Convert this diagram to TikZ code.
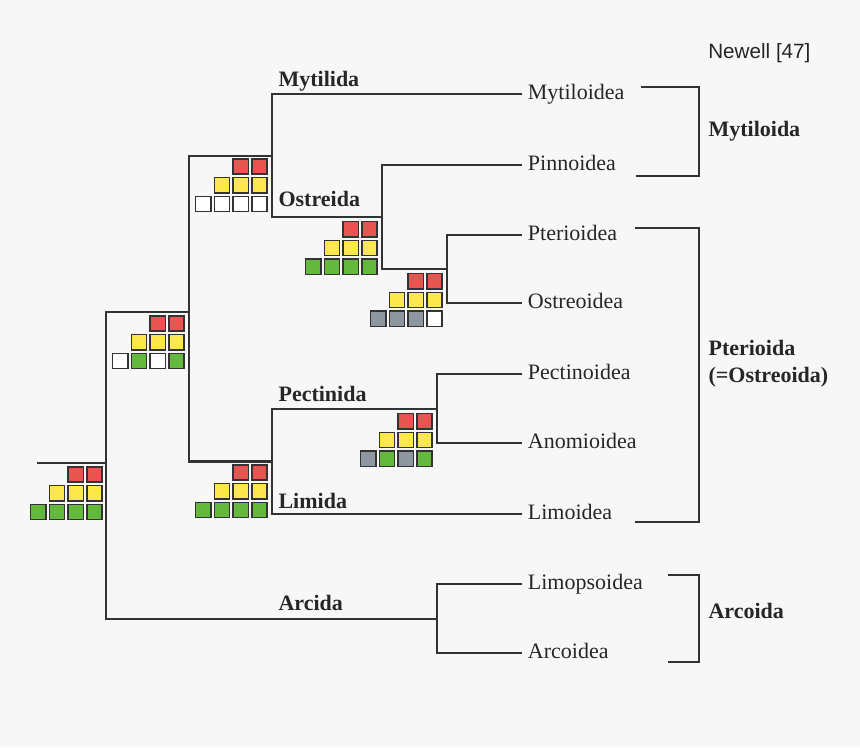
\documentclass[tikz,border=0pt]{standalone}
\usepackage{fontspec}
\setmainfont{Liberation Serif}
\newfontfamily\arialfont{Liberation Sans}
\definecolor{bg}{HTML}{F7F7F7}
\definecolor{ln}{HTML}{333333}
\definecolor{tx}{HTML}{262626}
\definecolor{cred}{HTML}{E8544F}
\definecolor{cyel}{HTML}{FCE74C}
\definecolor{cgrn}{HTML}{64B83D}
\definecolor{cgry}{HTML}{8E979F}
\definecolor{cwht}{HTML}{FFFFFF}
\newcommand\sqgroup[6]{%
  \foreach \k in {0,1}
    \draw[sqbox, fill=cred] ({#1-\k*18.8-16.0},{#2+0.8}) rectangle ++(15.2,15.2);
  \foreach \k in {0,1,2}
    \draw[sqbox, fill=cyel] ({#1-\k*18.8-16.0},{#2+18.8+0.8}) rectangle ++(15.2,15.2);
  \foreach \c [count=\i from 0] in {#3,#4,#5,#6}
    \draw[sqbox, fill=\c] ({#1-3*18.8-16.0+\i*18.8},{#2+37.6+0.8}) rectangle ++(15.2,15.2);
}
\begin{document}
\begin{tikzpicture}[x=0.75pt,y=-0.75pt,
  branch/.style={draw=ln, line width=1.6pt, line cap=rect},
  sqbox/.style={draw=ln, line width=1.2pt},
  leaf/.style={anchor=west, inner xsep=5pt, inner ysep=0pt, text height=0.8em, text depth=0.05em, font=\fontsize{16.5}{19}\selectfont, text=tx},
  clade/.style={anchor=base west, inner sep=0pt, font=\fontsize{16.5}{19}\selectfont\bfseries, text=tx},
  bracket/.style={draw=ln, line width=1.6pt}
]
\fill[bg] (0,0) rectangle (860,747);
\useasboundingbox (0,0) rectangle (860,747);

% leaves
\node[leaf] (mytiloidea)  at (521,94.3)  {Mytiloidea};
\node[leaf] (pinnoidea)   at (521,165)   {Pinnoidea};
\node[leaf] (pterioidea)  at (521,235)   {Pterioidea};
\node[leaf] (ostreoidea)  at (521,303.3) {Ostreoidea};
\node[leaf] (pectinoidea) at (521,374)   {Pectinoidea};
\node[leaf] (anomioidea)  at (521,443.3) {Anomioidea};
\node[leaf] (limoidea)    at (521,514)   {Limoidea};
\node[leaf] (limopsoidea) at (521,584)   {Limopsoidea};
\node[leaf] (arcoidea)    at (521,653.3) {Arcoidea};

% internal branch points
\coordinate (stub) at (38.5,462.7);
\coordinate (root) at (106,462.7);
\coordinate (A) at (189,312.3);
\coordinate (B) at (272,155.7);
\coordinate (C) at (272,461.5);
\coordinate (D) at (382,216.7);
\coordinate (E) at (447,269);
\coordinate (F) at (437,409.3);
\coordinate (G) at (437,619.3);

% tree
\draw[branch] (stub) -- (root);
\draw[branch] (A) -| (root) |- (G);
\draw[branch] (B) -| (A) |- (C);
\draw[branch] (mytiloidea.west) -| (B) |- (D);
\draw[branch] (pinnoidea.west) -| (D) |- (E);
\draw[branch] (pterioidea.west) -| (E) |- (ostreoidea.west);
\draw[branch] (F) -| (C) |- (limoidea.west);
\draw[branch] (pectinoidea.west) -| (F) |- (anomioidea.west);
\draw[branch] (limopsoidea.west) -| (G) |- (arcoidea.west);

% clade labels
\node[clade] (mytilida)  at (278.3,86.7)  {Mytilida};
\node[clade] (ostreida)  at (278.3,206.7) {Ostreida};
\node[clade] (pectinida) at (278.3,401.7) {Pectinida};
\node[clade] (limida)    at (278.3,508.3) {Limida};
\node[clade] (arcida)    at (278.3,610)   {Arcida};

% character squares
\sqgroup{103}{466}{cgrn}{cgrn}{cgrn}{cgrn}
\sqgroup{185}{315}{cwht}{cgrn}{cwht}{cgrn}
\sqgroup{268}{158}{cwht}{cwht}{cwht}{cwht}
\sqgroup{378}{220.7}{cgrn}{cgrn}{cgrn}{cgrn}
\sqgroup{443}{272.7}{cgry}{cgry}{cgry}{cwht}
\sqgroup{433}{412.7}{cgry}{cgrn}{cgry}{cgrn}
\sqgroup{268}{464}{cgrn}{cgrn}{cgrn}{cgrn}

% orders (Newell)
\node[anchor=base west, inner sep=0pt, font=\arialfont\fontsize{15.5}{18}\selectfont, text=tx] (newell) at (708,58.3) {Newell [47]};

\coordinate (m1) at (640.7,86.7);
\coordinate (m2) at (699,131);
\coordinate (m3) at (635.7,175.7);
\draw[bracket] (m1) -| (m2) |- (m3);
\node[clade] (mytiloida) at (708.3,136.7) {Mytiloida};

\coordinate (p1) at (635,228.3);
\coordinate (p2) at (699,375);
\coordinate (p3) at (635,521.7);
\draw[bracket] (p1) -| (p2) |- (p3);
\node[clade] (pterioida) at (708.3,355) {Pterioida};
\node[clade] (ostreoida) at (708.3,382.7) {(=Ostreoida)};

\coordinate (a1) at (668,575);
\coordinate (a2) at (699,618);
\coordinate (a3) at (668,662);
\draw[bracket] (a1) -| (a2) |- (a3);
\node[clade] (arcoida) at (708.3,618.5) {Arcoida};
\end{tikzpicture}
\end{document}
